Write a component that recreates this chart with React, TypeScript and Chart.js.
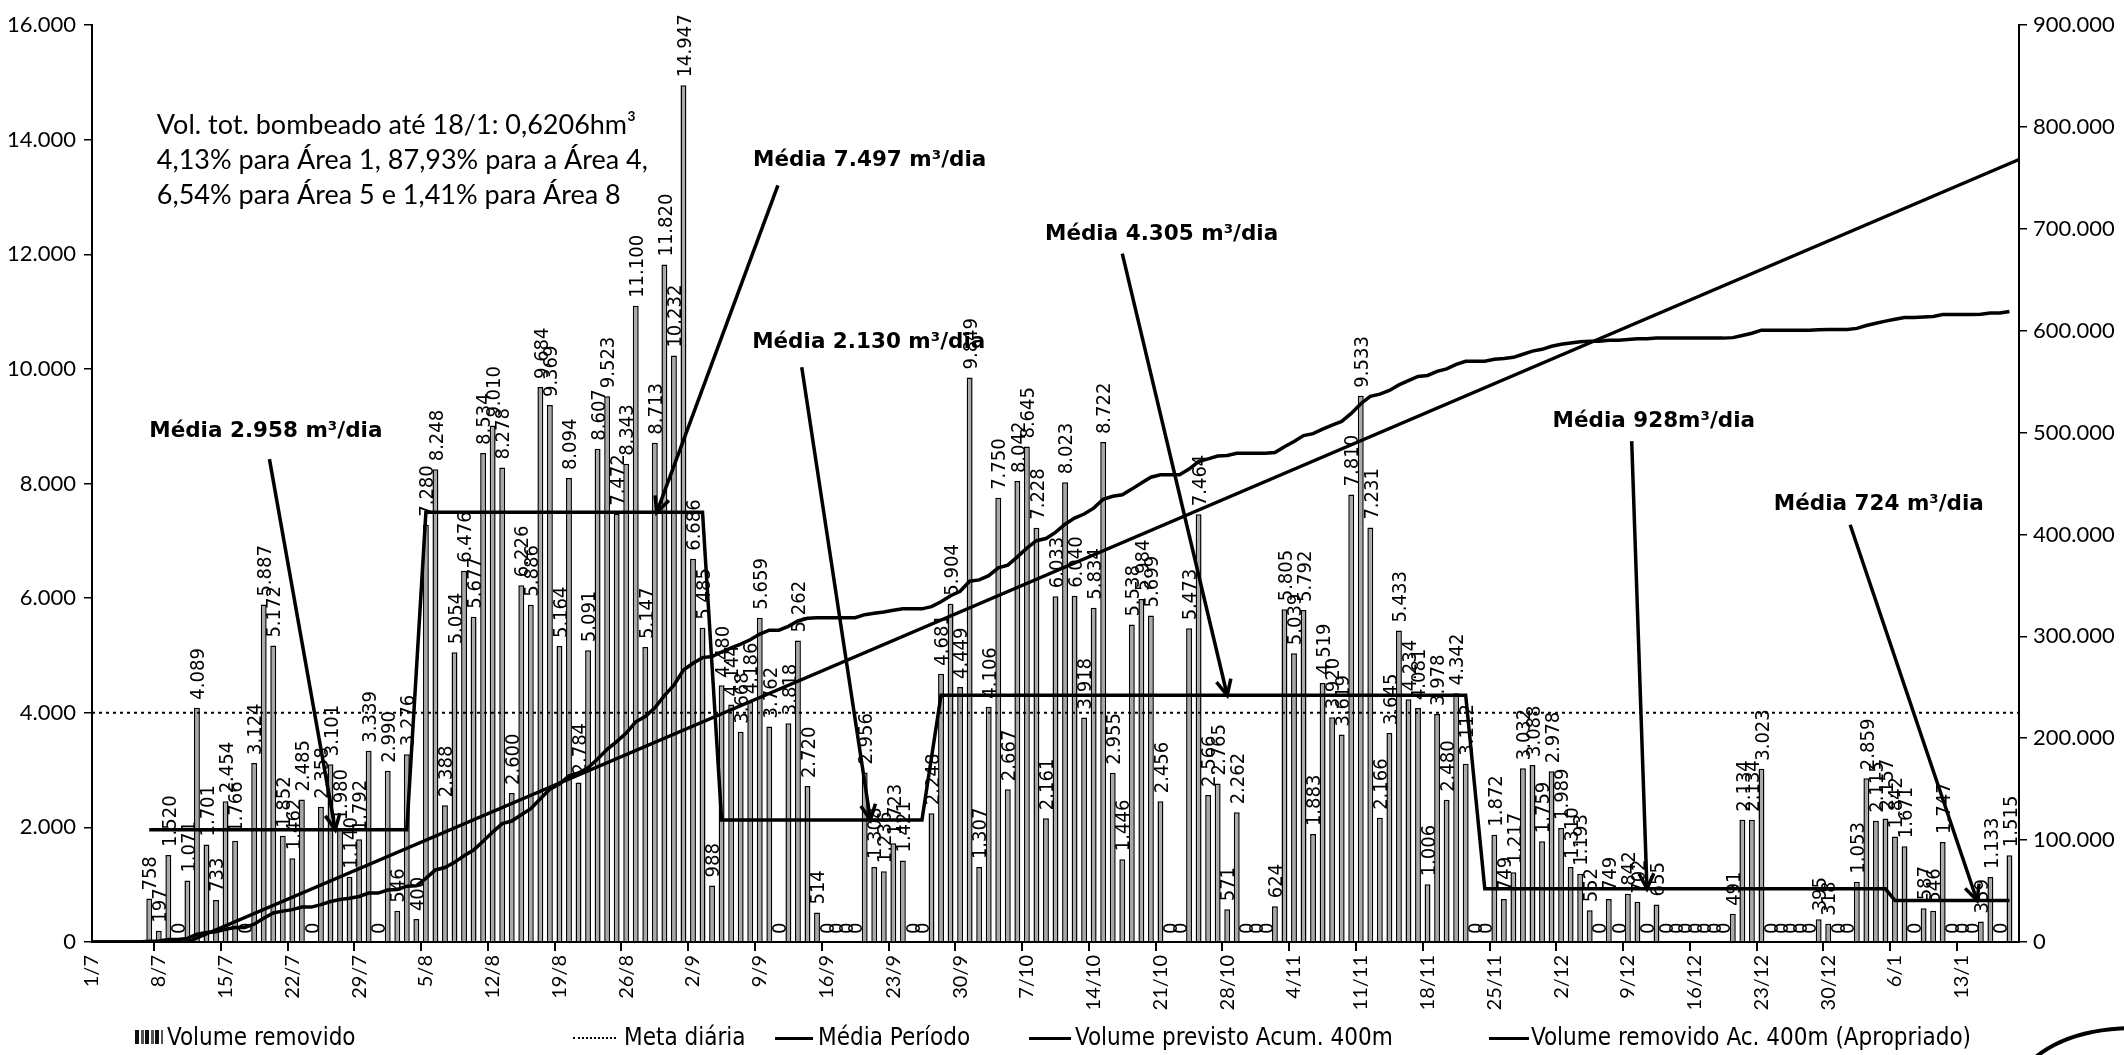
import React, { useEffect, useRef } from 'react';
import { Chart, registerables } from 'chart.js';

Chart.register(...registerables);

const W = 2124;
const H = 1055;

// ---- categories (one per day, 1/7 .. 19/1) ----
const monthNumbers = [7, 8, 9, 10, 11, 12, 1];
const monthDays = [31, 31, 30, 31, 30, 31, 19];
const categories: string[] = [];
monthNumbers.forEach((m, k) => {
  for (let d = 1; d <= monthDays[k]; d++) categories.push(`${d}/${m}`);
});

const tickLabels = [
  '1/7', '8/7', '15/7', '22/7', '29/7', '5/8', '12/8', '19/8', '26/8', '2/9',
  '9/9', '16/9', '23/9', '30/9', '7/10', '14/10', '21/10', '28/10', '4/11', '11/11',
  '18/11', '25/11', '2/12', '9/12', '16/12', '23/12', '30/12', '6/1', '13/1',
];

// ---- daily removed volume (m³) ----
const julyVolume = [
  null, null, null, null, null, null, 758, 197, 1520, 0, 1071, 4089, 1701, 733, 2454, 1766,
  0, 3124, 5887, 5172, 1852, 1462, 2485, 0, 2358, 3101, 1980, 1140, 1792, 3339, 0,
];
const augustVolume = [
  2990, 546, 3276, 400, 7280, 8248, 2388, 5054, 6476, 5677, 8534, 9010, 8278, 2600, 6226, 5886,
  9684, 9369, 5164, 8094, 2784, 5091, 8607, 9523, 7472, 8343, 11100, 5147, 8713, 11820, 10232,
];
const septemberVolume = [
  14947, 6686, 5485, 988, 4480, 4144, 3668, 4186, 5659, 3762, 0, 3818, 5262, 2720, 514,
  0, 0, 0, 0, 2956, 1308, 1236, 1723, 1421, 0, 0, 2248, 4681, 5904, 4449,
];
const octoberVolume = [
  9849, 1307, 4106, 7750, 2667, 8042, 8645, 7228, 2161, 6033, 8023, 6040, 3918, 5834, 8722, 2955,
  1446, 5538, 5984, 5699, 2456, 0, 0, 5473, 7464, 2566, 2765, 571, 2262, 0, 0,
];
const novemberVolume = [
  0, 624, 5805, 5039, 5792, 1883, 4519, 3920, 3619, 7810, 9533, 7231, 2166, 3645, 5433,
  4234, 4081, 1006, 3978, 2480, 4342, 3112, 0, 0, 1872, 749, 1217, 3032, 3088, 1759,
];
const decemberVolume = [
  2978, 1989, 1310, 1193, 552, 0, 749, 0, 842, 702, 0, 655, 0, 0, 0, 0,
  0, 0, 0, 491, 2134, 2134, 3023, 0, 0, 0, 0, 0, 395, 318, 0,
];
const januaryVolume = [
  0, 1053, 2859, 2115, 2157, 1842, 1671, 0, 587, 546, 1747, 0, 0, 0, 359, 1133, 0, 1515, null,
];

const dailyVolume: (number | null)[] = [
  ...julyVolume, ...augustVolume, ...septemberVolume, ...octoberVolume,
  ...novemberVolume, ...decemberVolume, ...januaryVolume,
];

// ---- Meta diária ----
const metaDates = ['1/7', '19/1'];
const metaValues = [4000, 4000];

// ---- Média Período (steps) ----
const mediaValues = [1960, 7497, 2130, 4305, 928, 724];
const mediaFrom = ['7/7', '5/8', '5/9', '28/9', '24/11', '6/1'];
const mediaTo = ['3/8', '3/9', '26/9', '22/11', '5/1', '18/1'];

// ---- Volume previsto acumulado (m³) ----
const previstoDates = ['1/7', '11/7', '19/1'];
const previstoValues = [0, 0, 768000];

// ---- helpers building library series ----
function sparse(dates: string[], values: number[]) {
  const s: (number | null)[] = categories.map(() => null);
  dates.forEach((d, k) => { s[categories.indexOf(d)] = values[k]; });
  return s;
}
const metaSeries = sparse(metaDates, metaValues);
const mediaSeries = sparse(
  mediaFrom.concat(mediaTo),
  mediaValues.concat(mediaValues),
);
const previstoSeries = sparse(previstoDates, previstoValues);
let running = 0;
const removidoAcum: (number | null)[] = dailyVolume.map((v, i) => {
  if (i === dailyVolume.length - 1 && v == null) return null;
  running += v ?? 0;
  return running;
});

const fmt = (v: number) => String(Math.round(v)).replace(/\B(?=(\d{3})+(?!\d))/g, '.');

// ---- annotation texts ----
const infoLines = [
  'Vol. tot. bombeado até 18/1: 0,6206hm³',
  '4,13% para Área 1, 87,93% para a Área 4,',
  '6,54% para Área 5 e 1,41% para Área 8',
];
const mediaNotes = [
  'Média 2.958 m³/dia', 'Média 7.497 m³/dia', 'Média 2.130 m³/dia',
  'Média 4.305 m³/dia', 'Média 928m³/dia', 'Média 724 m³/dia',
];
// placement in (day index, left-axis value)
const notePlace = [
  { tx: 6.0, ty: 8900, ax: 18.6, ay: 8425, bx: 25.5, by: 1960 },
  { tx: 69.3, ty: 13630, ax: 71.9, ay: 13200, bx: 59.2, by: 7497 },
  { tx: 69.2, ty: 10470, ax: 74.4, ay: 10030, bx: 81.6, by: 2130 },
  { tx: 99.9, ty: 12340, ax: 108, ay: 12010, bx: 119, by: 4305 },
  { tx: 153.1, ty: 9090, ax: 161.4, ay: 8740, bx: 163, by: 928 },
  { tx: 176.3, ty: 7630, ax: 184.3, ay: 7280, bx: 197.6, by: 724 },
];

const overlayPlugin = {
  id: 'overlay',
  afterDatasetsDraw(chart: any) {
    const { ctx, chartArea } = chart;
    const yS = chart.scales.y;
    const n = categories.length - 1;
    const px = (d: number) => chartArea.left + (d / n) * (chartArea.right - chartArea.left);
    const py = (v: number) => yS.getPixelForValue(v);

    // bar value labels
    const meta = chart.getDatasetMeta(0);
    ctx.save();
    ctx.fillStyle = '#000';
    ctx.font = '20px "Liberation Sans Narrow", "DejaVu Sans Condensed", sans-serif';
    ctx.textAlign = 'left';
    ctx.textBaseline = 'middle';
    meta.data.forEach((bar: any, i: number) => {
      const v = dailyVolume[i];
      if (v == null) return;
      ctx.save();
      ctx.translate(bar.x + 2, bar.y - 8);
      ctx.rotate(-Math.PI / 2);
      ctx.fillText(fmt(v), 0, 0);
      ctx.restore();
    });
    ctx.restore();

    // info text
    ctx.save();
    ctx.fillStyle = '#000';
    ctx.font = '27px Lato, "Open Sans", sans-serif';
    ctx.textBaseline = 'middle';
    infoLines.forEach((t, k) => ctx.fillText(t, px(6.8), py(14250 - k * 614)));

    // media notes + arrows
    ctx.font = 'bold 21.5px "DejaVu Sans", sans-serif';
    ctx.strokeStyle = '#000';
    ctx.lineWidth = 3.5;
    mediaNotes.forEach((t, k) => {
      const p = notePlace[k];
      ctx.fillText(t, px(p.tx), py(p.ty));
      const x1 = px(p.ax), y1 = py(p.ay), x2 = px(p.bx), y2 = py(p.by);
      ctx.beginPath();
      ctx.moveTo(x1, y1);
      ctx.lineTo(x2, y2);
      ctx.stroke();
      const ang = Math.atan2(y2 - y1, x2 - x1);
      const L = 17;
      ctx.beginPath();
      ctx.moveTo(x2 - L * Math.cos(ang - 0.45), y2 - L * Math.sin(ang - 0.45));
      ctx.lineTo(x2, y2);
      ctx.lineTo(x2 - L * Math.cos(ang + 0.45), y2 - L * Math.sin(ang + 0.45));
      ctx.stroke();
    });
    ctx.restore();
  },
};

const tickFont = { family: 'Lato, "Open Sans", sans-serif', size: 22 };

export default function App() {
  const ref = useRef<HTMLCanvasElement>(null);
  useEffect(() => {
    const chart = new Chart(ref.current as HTMLCanvasElement, {
      type: 'bar',
      data: {
        labels: categories,
        datasets: [
          {
            type: 'bar',
            label: 'Volume removido',
            data: dailyVolume as any,
            yAxisID: 'y',
            backgroundColor: '#a8a8a8',
            borderColor: '#000',
            borderWidth: 1.5,
            barPercentage: 0.62,
            categoryPercentage: 1,
            order: 5,
          },
          {
            type: 'line',
            label: 'Meta diária',
            data: metaSeries as any,
            yAxisID: 'y',
            borderColor: '#000',
            borderWidth: 2,
            borderDash: [3, 4],
            pointRadius: 0,
            spanGaps: true,
            order: 1,
          },
          {
            type: 'line',
            label: 'Média Período',
            data: mediaSeries as any,
            yAxisID: 'y',
            borderColor: '#000',
            borderWidth: 3.5,
            pointRadius: 0,
            spanGaps: true,
            order: 1,
          },
          {
            type: 'line',
            label: 'Volume previsto Acum. 400m',
            data: previstoSeries as any,
            yAxisID: 'y1',
            borderColor: '#000',
            borderWidth: 3.5,
            pointRadius: 0,
            spanGaps: true,
            order: 1,
          },
          {
            type: 'line',
            label: 'Volume removido Ac. 400m (Apropriado)',
            data: removidoAcum as any,
            yAxisID: 'y1',
            borderColor: '#000',
            borderWidth: 3.5,
            pointRadius: 0,
            spanGaps: true,
            order: 1,
          },
        ],
      },
      options: {
        responsive: false,
        animation: false,
        devicePixelRatio: 1,
        layout: { padding: { top: 25, left: 0, right: 0, bottom: 0 } },
        plugins: { legend: { display: false }, tooltip: { enabled: false } },
        scales: {
          x: {
            type: 'category',
            offset: false,
            grid: {
              drawOnChartArea: false,
              drawTicks: true,
              tickLength: 9,
              lineWidth: 2,
              color: (c: any) => (tickLabels.includes(categories[c.index]) ? '#000' : 'rgba(0,0,0,0)'),
            },
            border: { display: true, color: '#000', width: 2 },
            ticks: {
              autoSkip: false,
              maxRotation: 90,
              minRotation: 90,
              padding: 4,
              color: '#000',
              font: { ...tickFont, size: 20 },
              callback: (_v: any, i: number) => (tickLabels.includes(categories[i]) ? categories[i] : ''),
            },
            afterFit: (s: any) => { s.height = 113; },
          },
          y: {
            position: 'left',
            min: 0,
            max: 16000,
            grid: { drawOnChartArea: false, drawTicks: true, tickLength: 8, color: '#000', lineWidth: 1.5 },
            border: { display: true, color: '#000', width: 2 },
            ticks: { stepSize: 2000, color: '#000', font: tickFont, padding: 8, callback: (v: any) => fmt(Number(v)) },
            afterFit: (s: any) => { s.width = 92; },
          },
          y1: {
            position: 'right',
            min: 0,
            max: 900000,
            grid: { drawOnChartArea: false, drawTicks: true, tickLength: 8, color: '#000', lineWidth: 1.5 },
            border: { display: true, color: '#000', width: 2 },
            ticks: { stepSize: 100000, color: '#000', font: tickFont, padding: 6, callback: (v: any) => fmt(Number(v)) },
            afterFit: (s: any) => { s.width = 105; },
          },
        },
      },
      plugins: [overlayPlugin],
    } as any);
    return () => chart.destroy();
  }, []);

  const legendFont: React.CSSProperties = {
    position: 'absolute',
    top: 1023,
    fontFamily: '"Liberation Sans Narrow", "DejaVu Sans Condensed", sans-serif',
    fontSize: 24,
    lineHeight: '28px',
    color: '#000',
    whiteSpace: 'nowrap',
  };
  const lineSw = (left: number, width: number, style: string): React.CSSProperties => ({
    position: 'absolute', left, top: 1037, width, height: 0, borderTop: style,
  });

  return (
    <div style={{ position: 'fixed', left: 0, top: 0, width: W, height: H, background: '#fff', overflow: 'hidden' }}>
      <canvas ref={ref} width={W} height={H} style={{ position: 'absolute', left: 0, top: 0 }} />
      <div style={{
        position: 'absolute', left: 135, top: 1030, width: 28, height: 14,
        background: 'repeating-linear-gradient(90deg, #111 0 4px, #fff 4px 6px, #555 6px 9px, #fff 9px 10px)',
      }} />
      <div style={{ ...legendFont, left: 167 }}>Volume removido</div>
      <div style={lineSw(573, 43, '2px dotted #000')} />
      <div style={{ ...legendFont, left: 624 }}>Meta diária</div>
      <div style={lineSw(775, 38, '3px solid #000')} />
      <div style={{ ...legendFont, left: 818 }}>Média Período</div>
      <div style={lineSw(1029, 42, '3px solid #000')} />
      <div style={{ ...legendFont, left: 1075 }}>Volume previsto Acum. 400m</div>
      <div style={lineSw(1489, 40, '3px solid #000')} />
      <div style={{ ...legendFont, left: 1531 }}>Volume removido Ac. 400m (Apropriado)</div>
      <svg width={130} height={60} style={{ position: 'absolute', left: 2010, top: 1020 }}>
        <path d="M 6 58 Q 40 10 120 8" fill="none" stroke="#000" strokeWidth={4} />
        <text x={72} y={58} fontFamily='"Liberation Sans Narrow", sans-serif' fontSize={34} fill="#000">-67</text>
      </svg>
    </div>
  );
}
